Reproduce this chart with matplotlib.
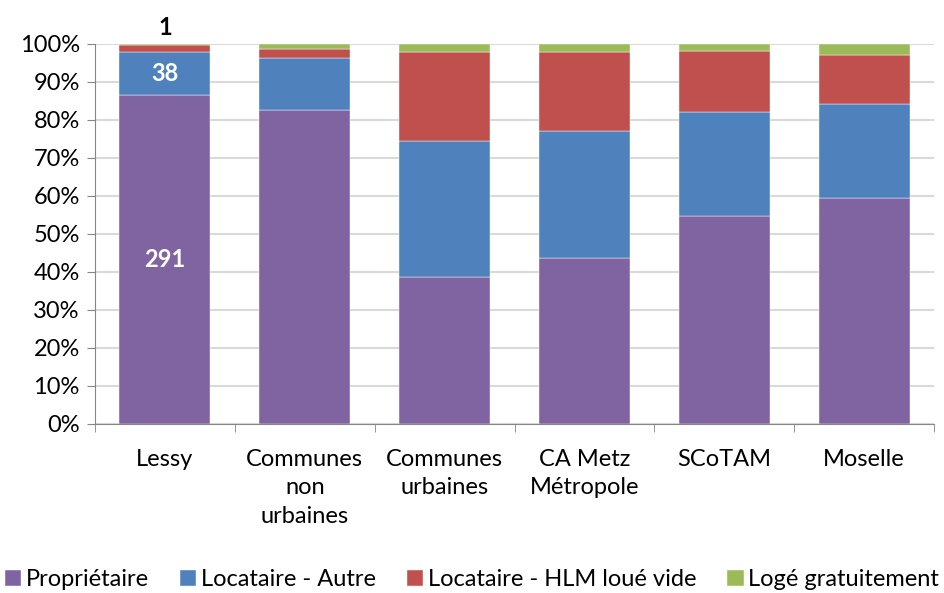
import numpy as np
import matplotlib.pyplot as plt

plt.rcParams['font.family'] = ['Lato', 'DejaVu Sans']

categories = ['Lessy', 'Communes\nnon\nurbaines', 'Communes\nurbaines',
              'CA Metz\nMétropole', 'SCoTAM', 'Moselle']
series = ['Propriétaire', 'Locataire - Autre', 'Locataire - HLM loué vide',
          'Logé gratuitement']
proprietaire = [86.6, 82.5, 38.5, 43.5, 54.6, 59.3]
locataire_autre = [11.3, 13.7, 35.9, 33.5, 27.3, 24.8]
locataire_hlm = [1.8, 2.4, 23.5, 20.9, 16.3, 12.9]
loge_gratuit = [0.3, 1.4, 2.1, 2.1, 1.8, 3.0]
lessy_counts = [291, 38, 6, 1]

colors = ['#8064a2', '#4f81bd', '#c0504d', '#9bbb59']
values = [proprietaire, locataire_autre, locataire_hlm, loge_gratuit]

fs = 17

fig = plt.figure(figsize=(9.44, 5.93), dpi=100)
ax = fig.add_axes([0.1006, 0.2855, 0.889, 0.6408])

x = np.arange(len(categories))
bottom = np.zeros(len(categories))
for name, vals, c in zip(series, values, colors):
    ax.bar(x, vals, 0.65, bottom=bottom, color=c, label=name,
           edgecolor='white', linewidth=0.3, zorder=3)
    bottom += np.array(vals)

# labels on Lessy
ax.text(0, proprietaire[0] / 2, str(lessy_counts[0]), ha='center', va='center',
        color='white', fontsize=fs, fontweight='bold', zorder=4)
ax.text(0, proprietaire[0] + locataire_autre[0] / 2, str(lessy_counts[1]),
        ha='center', va='center', color='white', fontsize=fs,
        fontweight='bold', zorder=4)
ax.text(0, 101.2, str(lessy_counts[3]), ha='center', va='bottom',
        color='black', fontsize=fs, fontweight='bold', zorder=4)

ax.set_xlim(-0.5, len(categories) - 0.5)
ax.set_ylim(0, 100)
ax.set_yticks(np.arange(0, 101, 10))
ax.set_yticklabels(['%d%%' % v for v in range(0, 101, 10)], fontsize=fs)
ax.yaxis.grid(True, color='#d9d9d9', linewidth=1.5, zorder=0)
ax.set_xticks(x)
ax.set_xticklabels(categories, fontsize=fs, va='top', linespacing=1.45)
ax.set_xticks(np.arange(-0.5, len(categories), 1), minor=True)
ax.tick_params(axis='x', which='major', length=0, pad=18)
ax.tick_params(axis='x', which='minor', length=6, color='#868686')
ax.tick_params(axis='y', length=6, color='#868686', pad=5)
for s in ['top', 'right']:
    ax.spines[s].set_visible(False)
for s in ['left', 'bottom']:
    ax.spines[s].set_color('#868686')

fig.legend(loc='center', bbox_to_anchor=(0.5, 0.022), ncol=4, frameon=False,
           fontsize=fs, handlelength=0.7, handleheight=0.7, handletextpad=0.2,
           columnspacing=1.3, borderpad=0, borderaxespad=0)

fig.savefig('out.png', dpi=100)
